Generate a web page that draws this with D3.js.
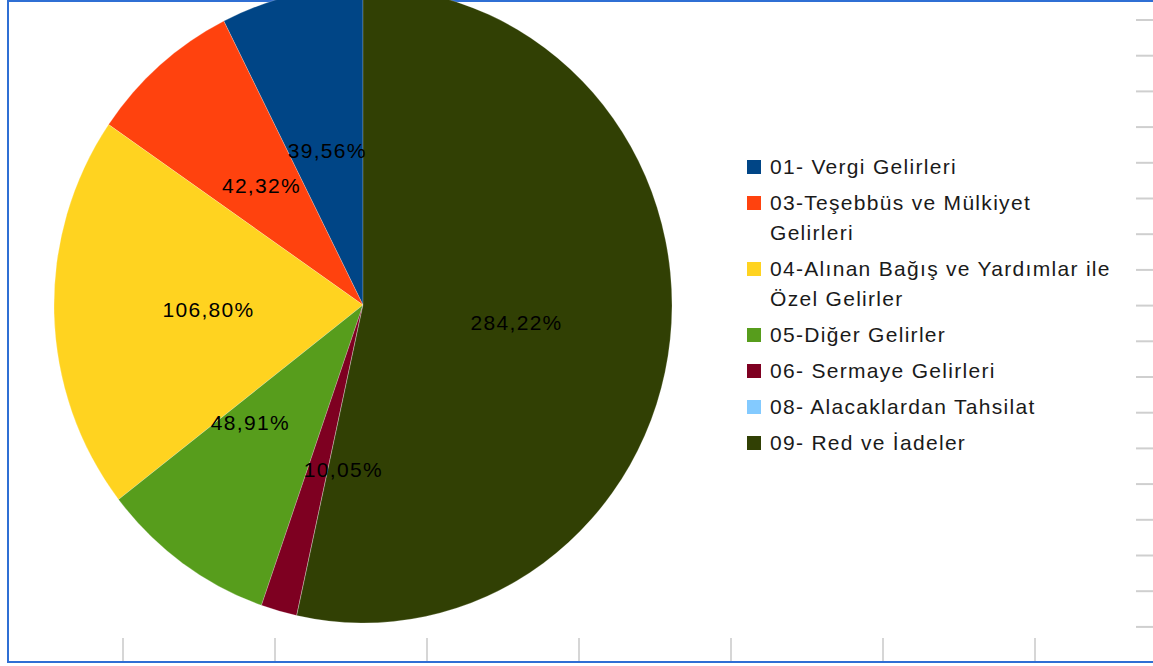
<!DOCTYPE html>
<html>
<head>
<meta charset="utf-8">
<script src="https://cdn.jsdelivr.net/npm/d3@7"></script>
<style>
  html, body { margin: 0; padding: 0; background: #fff; }
  svg { display: block; }
</style>
</head>
<body>
<svg id="chart"></svg>
<script>
// data
const categories = [
    "01- Vergi Gelirleri",
    "03-Teşebbüs ve Mülkiyet|Gelirleri",
    "04-Alınan Bağış ve Yardımlar ile|Özel Gelirler",
    "05-Diğer Gelirler",
    "06- Sermaye Gelirleri",
    "08- Alacaklardan Tahsilat",
    "09- Red ve İadeler"
];
const values = [39.56, 42.32, 106.80, 48.91, 10.05, 0, 284.22];
const colors = ["#004586", "#ff420e", "#ffd320", "#579d1c", "#7e0021", "#83caff", "#314004"];

const width = 1153;
const height = 666;
const cx = 363, cy = 305;
const rx = 309, ry = 318;

const data = categories.map((c, i) => ({ name: c, value: values[i], color: colors[i] }));

const svg = d3.select("#chart")
    .attr("width", width)
    .attr("height", height);

// spreadsheet frame + ruler marks
svg.append("g")
    .selectAll("line")
    .data(d3.range(123, 1100, 152))
    .enter()
    .append("line")
    .attr("x1", d => d).attr("x2", d => d)
    .attr("y1", 638).attr("y2", 662)
    .attr("stroke", "#c8c8c8")
    .attr("stroke-width", 1.5);

svg.append("g")
    .selectAll("line")
    .data(d3.range(20, 640, 35.7))
    .enter()
    .append("line")
    .attr("x1", 1136).attr("x2", width)
    .attr("y1", d => d).attr("y2", d => d)
    .attr("stroke", "#cfcfcf")
    .attr("stroke-width", 2);

svg.append("path")
    .attr("d", `M${width},1 H8 V662 H${width}`)
    .attr("fill", "none")
    .attr("stroke", "#2f6fd4")
    .attr("stroke-width", 2);

// pie (drawn counter-clockwise from 12 o'clock, slightly stretched vertically)
const pie = d3.pie()
    .sort(null)
    .value(d => d.value)
    .startAngle(0)
    .endAngle(-2 * Math.PI);

const arcs = pie(data);

const arc = d3.arc().innerRadius(0).outerRadius(rx);
const labelArc = d3.arc().innerRadius(rx * 0.5).outerRadius(rx * 0.5);

const pieG = svg.append("g")
    .attr("transform", `translate(${cx},${cy}) scale(1,${ry / rx})`);

pieG.selectAll("path")
    .data(arcs)
    .enter()
    .append("path")
    .attr("d", arc)
    .attr("fill", d => d.data.color)
    .attr("stroke", "rgba(255,255,255,0.3)")
    .attr("stroke-width", 0.7);

// labels at slice centroids
const fmt = v => d3.format(".2f")(v).replace(".", ",") + "%";
const labels = arcs.filter(d => d.data.value > 0).map(d => {
    const [x, y] = labelArc.centroid(d);
    return { x: cx + x, y: cy + y * ry / rx, text: fmt(d.data.value), w: 0, h: 24 };
});

const labelG = svg.append("g");
const labelText = labelG.selectAll("text")
    .data(labels)
    .enter()
    .append("text")
    .attr("text-anchor", "middle")
    .attr("dominant-baseline", "central")
    .style("font-family", "'Liberation Sans', Arial, sans-serif")
    .style("font-size", "21px")
    .style("letter-spacing", "1.3px")
    .attr("fill", "#000")
    .text(d => d.text);

labelText.each(function (d) { d.w = this.getComputedTextLength() + 14; });

// overlapping labels get pushed apart along the line joining them
// until they clear each other sideways
for (let i = 0; i < labels.length; i++) {
    for (let j = i + 1; j < labels.length; j++) {
        const a = labels[i], b = labels[j];
        const wsum = (a.w + b.w) / 2;
        const dx = b.x - a.x, dy = b.y - a.y;
        if (Math.abs(dx) < wsum && Math.abs(dy) < (a.h + b.h) / 2) {
            const t = wsum / Math.max(Math.abs(dx), 1);
            const mx = (a.x + b.x) / 2, my = (a.y + b.y) / 2;
            a.x = mx - dx * t / 2; a.y = my - dy * t / 2;
            b.x = mx + dx * t / 2; b.y = my + dy * t / 2;
        }
    }
}

labelText
    .attr("x", d => d.x)
    .attr("y", d => d.y);

// legend
const legend = svg.append("g").attr("transform", "translate(747,0)");
let baseline = 174;
data.forEach(d => {
    const lines = d.name.split("|");
    const g = legend.append("g");
    g.append("rect")
        .attr("x", 0)
        .attr("y", baseline - 14)
        .attr("width", 14)
        .attr("height", 14)
        .attr("fill", d.color);
    lines.forEach((line, k) => {
        g.append("text")
            .attr("x", 23)
            .attr("y", baseline + k * 30)
            .style("font-family", "'Liberation Sans', Arial, sans-serif")
            .style("font-size", "21px")
            .style("letter-spacing", "1.3px")
            .attr("fill", "#1a1a1a")
            .text(line);
    });
    baseline += (lines.length - 1) * 30 + 36;
});
</script>
</body>
</html>
